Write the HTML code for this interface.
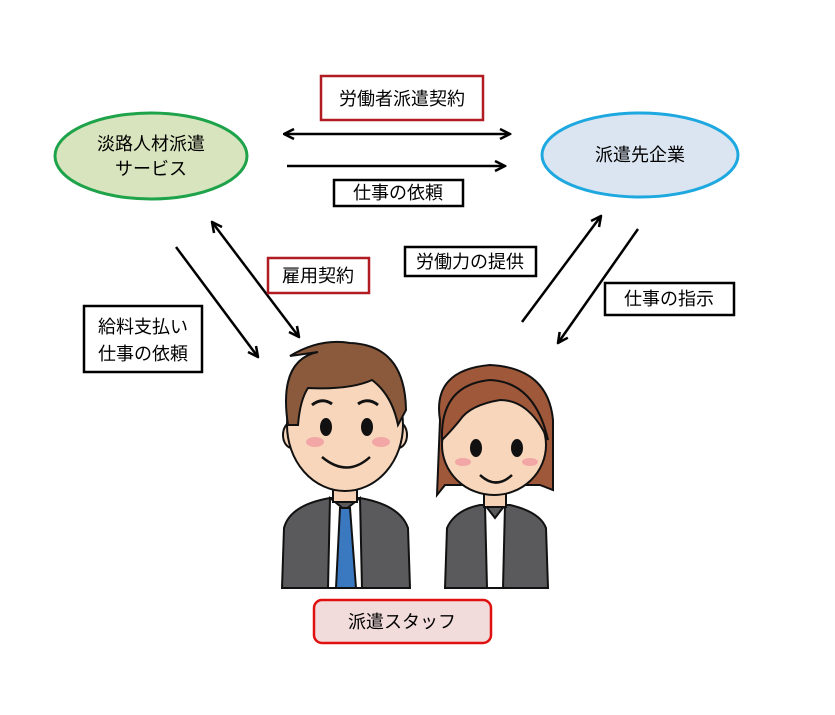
<!DOCTYPE html>
<html><head><meta charset="utf-8"><style>
body{margin:0;background:#fff;}
svg{display:block}
text{font-family:"Liberation Sans","Noto Sans CJK JP",sans-serif;font-size:18px;fill:#000}
</style></head><body>
<svg width="835" height="715" viewBox="0 0 835 715">
<defs>
<marker id="a" viewBox="0 0 10 10" refX="9" refY="5" markerWidth="5" markerHeight="5" orient="auto-start-reverse"><path d="M1,1 L9,5 L1,9" fill="none" stroke="#000" stroke-width="2"/></marker>
</defs>
<rect width="835" height="715" fill="#fff"/>
<ellipse cx="151" cy="156" rx="96" ry="43" fill="#d7e4bd" stroke="#1ea34b" stroke-width="3"/>
<text x="151" y="150" text-anchor="middle">淡路人材派遣</text>
<text x="151" y="175" text-anchor="middle">サービス</text>
<ellipse cx="640" cy="155" rx="98" ry="42" fill="#dbe5f1" stroke="#1ea8e0" stroke-width="3"/>
<text x="640" y="161" text-anchor="middle">派遣先企業</text>

<rect x="321" y="76" width="162" height="44" fill="#fff" stroke="#b01c22" stroke-width="2.5"/>
<text x="402" y="105" text-anchor="middle">労働者派遣契約</text>
<line x1="284" y1="134" x2="510" y2="134" stroke="#000" stroke-width="2.5" marker-start="url(#a)" marker-end="url(#a)"/>
<line x1="287" y1="166" x2="505" y2="166" stroke="#000" stroke-width="2.5" marker-end="url(#a)"/>
<rect x="334" y="180" width="129" height="26" fill="#fff" stroke="#000" stroke-width="2.5"/>
<text x="398" y="199" text-anchor="middle">仕事の依頼</text>

<line x1="176" y1="247" x2="258" y2="357" stroke="#000" stroke-width="2.5" marker-end="url(#a)"/>
<line x1="212" y1="222" x2="299" y2="337" stroke="#000" stroke-width="2.5" marker-start="url(#a)" marker-end="url(#a)"/>
<line x1="522" y1="322" x2="601" y2="216" stroke="#000" stroke-width="2.5" marker-end="url(#a)"/>
<line x1="638" y1="229" x2="558" y2="343" stroke="#000" stroke-width="2.5" marker-end="url(#a)"/>

<rect x="268" y="258" width="101" height="35" fill="#fff" stroke="#b01c22" stroke-width="2.5"/>
<text x="318" y="282" text-anchor="middle">雇用契約</text>
<rect x="405" y="247" width="131" height="29" fill="#fff" stroke="#000" stroke-width="2.5"/>
<text x="470" y="268" text-anchor="middle">労働力の提供</text>
<rect x="605" y="283" width="129" height="32" fill="#fff" stroke="#000" stroke-width="2.5"/>
<text x="669" y="305" text-anchor="middle">仕事の指示</text>
<rect x="84" y="306" width="118" height="66" fill="#fff" stroke="#000" stroke-width="2.5"/>
<text x="143" y="333" text-anchor="middle">給料支払い</text>
<text x="143" y="360" text-anchor="middle">仕事の依頼</text>

<!-- man -->
<g stroke="#111" stroke-width="2">
<path d="M282,588 L284,528 Q290,505 330,498 L360,498 Q400,505 408,528 L410,588 Z" fill="#5a5a5c"/>
<path d="M330,498 L345,510 L360,498 L362,588 L328,588 Z" fill="#fff"/>
<path d="M340,508 L350,508 L356,588 L336,588 Z" fill="#3a78c0"/>
<rect x="333" y="480" width="24" height="22" fill="#f5d2b6"/>
<ellipse cx="292" cy="435" rx="9" ry="13" fill="#f7d6bb"/>
<ellipse cx="398" cy="435" rx="9" ry="13" fill="#f7d6bb"/>
<ellipse cx="345" cy="425" rx="58" ry="66" fill="#f7d6bb"/>
<path d="M288,425 Q278,360 318,352 L290,356 Q320,338 350,343 Q405,345 406,410 L398,425 Q392,395 372,380 Q350,390 308,388 Q300,400 298,425 Z" fill="#8b5a3c"/>
</g>
<ellipse cx="315" cy="442" rx="9" ry="5" fill="#f2a6a6"/>
<ellipse cx="381" cy="442" rx="9" ry="5" fill="#f2a6a6"/>
<path d="M312,405 Q322,397 332,404 M358,404 Q368,397 378,405" fill="none" stroke="#111" stroke-width="3"/>
<ellipse cx="326" cy="427" rx="6" ry="9" fill="#111"/>
<ellipse cx="367" cy="427" rx="6" ry="9" fill="#111"/>
<path d="M322,457 Q347,478 370,457" fill="none" stroke="#111" stroke-width="2.5"/>

<!-- woman -->
<g stroke="#111" stroke-width="2">
<path d="M445,588 L447,528 Q455,510 480,505 L510,505 Q540,512 546,528 L548,588 Z" fill="#5a5a5c"/>
<path d="M485,505 L495,518 L505,505 L503,588 L487,588 Z" fill="#fff"/>
<rect x="484" y="485" width="22" height="22" fill="#f5d2b6"/>
<path d="M440,420 Q432,370 490,365 Q548,368 553,420 L553,490 L540,485 L445,485 L437,495 Z" fill="#a0583a"/>
<ellipse cx="494" cy="445" rx="52" ry="50" fill="#f7d6bb"/>
<path d="M442,440 Q440,385 490,380 Q535,382 548,440 Q530,400 500,400 Q470,405 460,420 Q452,430 442,440 Z" fill="#a0583a"/>
</g>
<ellipse cx="463" cy="462" rx="8" ry="4" fill="#f2a6a6"/>
<ellipse cx="530" cy="462" rx="8" ry="4" fill="#f2a6a6"/>
<ellipse cx="476" cy="448" rx="6" ry="9" fill="#111"/>
<ellipse cx="517" cy="448" rx="6" ry="9" fill="#111"/>
<path d="M480,475 Q496,490 512,475" fill="none" stroke="#111" stroke-width="2.5"/>

<rect x="314" y="600" width="177" height="43" rx="8" fill="#f2dcdb" stroke="#e01010" stroke-width="2.5"/>
<text x="402" y="628" text-anchor="middle">派遣スタッフ</text>
</svg>
</body></html>
